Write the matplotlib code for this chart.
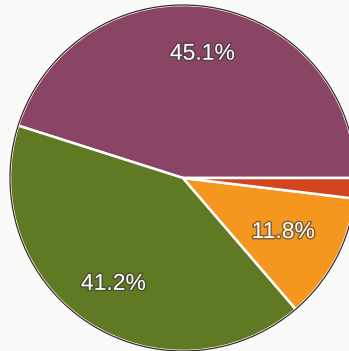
import matplotlib.pyplot as plt
import matplotlib.patheffects as pe
from matplotlib.patches import Circle

shares = [45.1, 41.2, 11.8, 1.9]
colors = ["#8a4565", "#5f7a22", "#f5961f", "#d2451e"]

fig = plt.figure(figsize=(3.49, 3.51), dpi=100, facecolor="#fafaf8")
ax = fig.add_axes([0, 0, 1, 1])

center = (183, 173)
radius = 173
wedges, texts, autotexts = ax.pie(
    shares, colors=colors, startangle=0, counterclock=True,
    center=center, radius=radius, pctdistance=0.73,
    autopct=lambda p: f"{p:.1f}%" if p > 5 else "",
    wedgeprops=dict(edgecolor="white", linewidth=1.8),
    textprops=dict(color="white", fontsize=16.5, family="Liberation Sans"),
)
ax.add_patch(Circle(center, radius, fill=False, edgecolor="#3a2a2a", linewidth=0.9))
ax.set_xlim(0, 349)
ax.set_ylim(0, 351)
ax.set_aspect("auto")
ax.axis("off")

# orange label sits a bit closer to the centre
x, y = autotexts[2].get_position()
autotexts[2].set_position((center[0] + (x - center[0]) * 0.9, center[1] + (y - center[1]) * 0.9))
for t in autotexts:
    t.set_path_effects([pe.withStroke(linewidth=2, foreground="#333333", alpha=0.6)])

fig.savefig("out.png", dpi=100, facecolor=fig.get_facecolor())
